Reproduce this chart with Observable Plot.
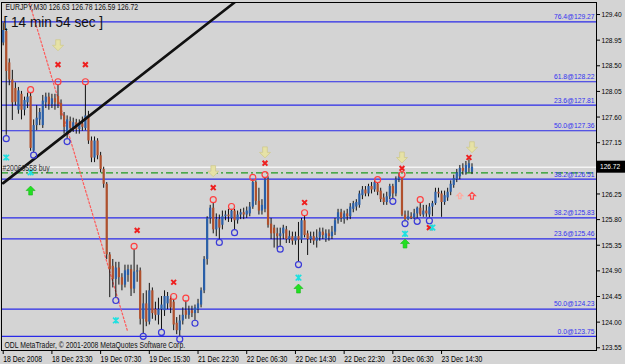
<!DOCTYPE html>
<html><head><meta charset="utf-8">
<script src="https://cdn.jsdelivr.net/npm/d3@7"></script>
<script src="https://cdn.jsdelivr.net/npm/@observablehq/plot@0.6"></script>
<style>
html,body{margin:0;padding:0;background:#d4d4d4;}
svg{display:block}
</style></head><body>
<script>
// ---- data (EURJPY M30 candles, bar index 0..154) ----
const open = [128.90,129.10,128.55,128.25,128.10,127.72,128.00,127.72,127.85,127.96,
127.00,127.45,127.55,127.45,127.85,127.95,127.82,127.92,127.96,127.84,
127.62,127.30,127.52,127.40,127.50,127.38,127.48,127.40,127.62,127.18,
126.88,127.18,126.92,126.68,126.42,125.18,124.98,124.75,124.95,124.78,
124.65,124.82,124.92,124.58,124.88,124.90,124.05,124.32,124.00,124.55,
124.22,124.12,124.22,124.20,124.32,124.40,124.35,123.98,123.85,124.02,
124.20,124.12,124.20,124.15,124.22,124.30,124.55,125.10,125.82,126.00,
125.62,125.80,125.70,125.85,125.88,125.82,125.95,125.78,125.88,125.92,
125.88,125.90,126.02,126.45,126.12,125.95,125.98,126.50,125.72,125.65,
125.55,125.50,125.55,125.62,125.45,125.50,125.42,125.50,125.44,125.78,
125.55,125.45,125.50,125.42,125.48,125.58,125.45,125.55,125.50,125.58,
125.78,125.92,125.80,125.90,125.85,125.98,126.02,126.05,126.22,126.32,
126.25,126.38,126.32,126.42,126.30,126.18,126.10,126.20,126.38,126.25,
126.50,126.52,125.88,125.80,125.85,125.82,125.90,126.00,125.88,125.95,
125.88,126.02,126.08,126.28,126.25,126.10,126.18,126.28,126.40,126.50,
126.55,126.70,126.62,126.70,126.63];
const high = [129.25,129.15,128.62,128.42,128.20,128.12,128.05,127.95,128.02,128.03,
127.55,127.80,127.75,127.98,128.02,128.02,128.00,128.00,128.17,127.90,
127.68,127.62,127.60,127.58,127.56,127.55,127.60,128.17,127.70,127.25,
127.25,127.22,126.98,126.72,126.45,125.22,125.10,125.05,125.05,124.85,
125.00,125.00,125.00,125.28,125.00,124.95,124.50,124.55,124.68,124.60,
124.35,124.42,124.45,124.55,124.52,124.45,124.40,124.08,124.12,124.25,
124.37,124.28,124.28,124.30,124.40,124.60,125.15,125.85,126.05,126.10,
125.90,125.88,125.95,125.95,125.98,125.98,125.98,125.95,125.98,126.00,
126.02,126.10,126.49,126.48,126.35,126.15,126.54,126.55,125.82,125.70,
125.65,125.65,125.70,125.68,125.60,125.58,125.58,125.75,125.82,125.87,
125.60,125.58,125.58,125.62,125.65,125.65,125.62,125.62,125.68,125.82,
125.98,125.98,125.95,125.98,126.08,126.12,126.15,126.30,126.38,126.38,
126.42,126.45,126.48,126.45,126.35,126.25,126.28,126.42,126.42,126.55,
126.62,126.54,125.95,125.95,125.92,125.98,126.02,126.10,126.05,126.05,
126.08,126.12,126.35,126.35,126.30,126.30,126.35,126.48,126.58,126.68,
126.75,126.78,126.82,126.85,126.78];
const low = [128.85,127.28,128.15,127.54,127.80,127.65,127.55,127.62,127.75,127.00,
126.98,127.36,127.45,127.40,127.75,127.72,127.75,127.72,127.75,127.55,
127.30,127.22,127.32,127.33,127.30,127.30,127.35,127.36,127.12,126.80,
126.80,126.85,126.62,126.35,125.10,124.43,124.60,124.43,124.65,124.55,
124.60,124.70,124.45,124.50,124.70,123.95,123.80,123.92,123.95,124.05,
124.02,123.95,123.87,124.10,124.22,124.15,123.85,123.78,123.75,123.95,
124.05,124.05,124.08,124.03,124.15,124.25,124.50,125.00,125.72,125.55,
125.50,125.45,125.62,125.78,125.75,125.75,125.62,125.72,125.80,125.80,
125.82,125.85,125.98,126.05,125.88,125.88,125.92,125.65,125.45,125.30,
125.28,125.33,125.45,125.38,125.38,125.35,125.35,125.06,125.38,125.48,
125.17,125.38,125.35,125.30,125.42,125.45,125.40,125.42,125.45,125.52,
125.72,125.75,125.72,125.78,125.80,125.92,125.95,126.00,126.15,126.20,
126.20,126.25,126.28,126.22,126.10,126.05,126.05,126.15,126.17,126.20,
126.45,125.85,125.78,125.78,125.80,125.80,125.82,125.85,125.84,125.84,
125.83,125.85,126.05,126.18,125.84,126.05,126.12,126.22,126.35,126.45,
126.50,126.58,126.58,126.62,126.59];
const close = [129.12,128.40,128.25,127.85,127.86,128.06,127.72,127.89,127.95,127.05,
127.45,127.58,127.68,127.88,127.95,127.82,127.92,127.85,127.82,127.62,
127.42,127.55,127.40,127.50,127.38,127.48,127.42,127.62,127.18,126.88,
127.18,126.92,126.68,126.42,125.18,124.92,124.75,124.95,124.78,124.65,
124.90,124.92,124.58,124.88,124.90,124.05,124.32,124.00,124.55,124.15,
124.12,124.22,124.30,124.45,124.45,124.25,123.95,123.85,124.02,124.12,
124.12,124.20,124.15,124.25,124.32,124.55,125.10,125.82,126.00,125.62,
125.80,125.65,125.85,125.88,125.85,125.95,125.78,125.88,125.92,125.88,
125.95,126.02,126.45,126.12,125.95,126.05,126.50,125.70,125.55,125.55,
125.50,125.55,125.65,125.45,125.50,125.42,125.50,125.44,125.78,125.52,
125.45,125.50,125.42,125.48,125.58,125.52,125.55,125.50,125.58,125.78,
125.92,125.82,125.90,125.85,126.02,126.08,126.10,126.25,126.32,126.25,
126.38,126.32,126.45,126.28,126.15,126.10,126.20,126.38,126.25,126.50,
126.55,125.88,125.80,125.85,125.82,125.90,126.00,125.88,125.95,125.90,
126.02,126.08,126.28,126.25,126.10,126.22,126.28,126.42,126.52,126.62,
126.70,126.65,126.75,126.78,126.72];

const xTickBars = [0,16,32,48,64,80,96,112,128,144];
const xTickLabels = ["18 Dec 2008","18 Dec 23:30","19 Dec 07:30","19 Dec 15:30","21 Dec 22:30",
  "22 Dec 06:30","22 Dec 14:30","22 Dec 22:30","23 Dec 06:30","23 Dec 14:30"];
// 126.70 sits under the current-price box, so it is not drawn
const yTicks = [123.55,124.00,124.45,124.90,125.35,125.80,126.25,127.15,127.60,128.05,128.50,128.95,129.40];

const fibLevels = ["76.4","61.8","23.6","50.0","38.2","38.2","23.6","50.0","0.0"];
const fibPrices = [129.27,128.22,127.81,127.36,126.51,125.83,125.46,124.23,123.75];

const redCircleBars   = [9,18,27,43,56,60,69,75,82,86,99,123,131,137];
const redCirclePrices = [128.08,128.22,128.22,125.33,124.45,124.42,126.15,126.03,126.54,126.59,125.92,126.50,126.59,126.15];
const blueCircleBars   = [1,10,21,37,46,52,58,63,71,76,91,97,128,132,136,140];
const blueCirclePrices = [127.22,126.93,127.17,124.38,123.75,123.82,123.70,123.98,125.40,125.57,125.28,125.01,126.12,125.73,125.77,125.78];
const yellowArrowBars   = [18,69,86,131,154];
const yellowArrowPrices = [128.86,126.65,126.98,126.89,127.07];
const redCrossBars   = [18,27,44,56,69,86,99,131,153,140];
const redCrossPrices = [128.52,128.52,125.61,124.70,126.36,126.79,126.10,126.70,126.89,125.66];
const cyanStarBars   = [1,9,37,97,132,141];
const cyanStarPrices = [126.89,126.63,124.03,124.78,125.55,125.66];
const greenArrowBars   = [9,97,132];
const greenArrowPrices = [126.31,124.59,125.38];
const outlineArrowBars   = [150,154];
const outlineArrowPrices = [126.22,126.22];

const trendBars = [0,80];
const trendPrices = [126.44,129.78];
const dottedBars = [8.6,40.8];
const dottedPrices = [129.61,123.85];

const symbolName = "EURJPY,M30";
const timerText = "[ 14 min 54 sec ]";
const copyrightText = "ODL MetaTrader, © 2001-2008 MetaQuotes Software Corp.";
const orderPrice = 126.62;
const orderLabel = "#20066558 buy";

// ---- build tables ----
const n = open.length;
const bars = open.map((o,i)=>({i, o, h: high[i], l: low[i], c: close[i], up: close[i] >= o}));
const last = bars[n-1];
const pts = (xs, ys) => xs.map((x,k)=>({x, y: ys[k]}));
const fibs = fibLevels.map((l,k)=>({label: `${l}@${fibPrices[k].toFixed(2)}`, y: fibPrices[k]}));
const header = `${symbolName} ${last.o.toFixed(2)} ${last.h.toFixed(2)} ${last.l.toFixed(2)} ${last.c.toFixed(2)}`;

const sym = f => ({draw(ctx, size){ const r = Math.sqrt(size/Math.PI); f(ctx, r); }});
const arrowDown = sym((c,r)=>{const w=r*0.42; c.moveTo(-w,-r); c.lineTo(w,-r); c.lineTo(w,0); c.lineTo(r,0); c.lineTo(0,r); c.lineTo(-r,0); c.lineTo(-w,0); c.closePath();});
const arrowUp = sym((c,r)=>{const w=r*0.42; c.moveTo(-w,r); c.lineTo(w,r); c.lineTo(w,0); c.lineTo(r,0); c.lineTo(0,-r); c.lineTo(-r,0); c.lineTo(-w,0); c.closePath();});
const cross = sym((c,r)=>{c.moveTo(-r,-r); c.lineTo(r,r); c.moveTo(-r,r); c.lineTo(r,-r);});
const star = sym((c,r)=>{c.moveTo(-r,-r); c.lineTo(r,r); c.moveTo(-r,r); c.lineTo(r,-r); c.moveTo(0,-r*1.1); c.lineTo(0,r*1.1);});

const BLUE = "#2a5fa8", BROWN = "#b0502c";
const X0 = -0.56, X1 = 194.9;

const chart = Plot.plot({
  width: 625, height: 364,
  marginTop: 2, marginRight: 29, marginBottom: 14, marginLeft: 1,
  style: {background: "#d4d4d4", fontFamily: "Liberation Sans, Arial, sans-serif", fontSize: "9px", color: "black"},
  x: {domain: [X0, X1]},
  y: {domain: [123.502, 129.611]},
  color: {type: "identity"},
  marks: [
    Plot.ruleY(fibs, {y: "y", stroke: "#2a2ae8", strokeWidth: 1.2}),
    Plot.ruleY([last.c], {stroke: "#f4f4f4", strokeWidth: 1.6}),
    Plot.ruleY([orderPrice], {stroke: "#1f9a1f", strokeWidth: 1.2, strokeDasharray: "7,3,2,3"}),
    Plot.line(pts(dottedBars, dottedPrices), {x: "x", y: "y", stroke: "#ff5a5a", strokeWidth: 1.2, strokeDasharray: "2,2", clip: true}),
    Plot.ruleX(bars, {x: "i", y1: "l", y2: "h", stroke: "#111", strokeWidth: 1}),
    Plot.ruleX(bars, {x: "i", y1: "o", y2: d => Math.abs(d.c-d.o) < 0.012 ? d.o + 0.012 : d.c,
      stroke: d => d.up ? BLUE : BROWN, strokeWidth: 2.2}),
    Plot.line(pts(trendBars, trendPrices), {x: "x", y: "y", stroke: "#111", strokeWidth: 2.6, clip: true}),
    Plot.dot(pts(redCircleBars, redCirclePrices), {x: "x", y: "y", r: 3, stroke: "#ff4040", strokeWidth: 1.2, fill: "none"}),
    Plot.dot(pts(blueCircleBars, blueCirclePrices), {x: "x", y: "y", r: 3, stroke: "#3a3ad8", strokeWidth: 1.2, fill: "none"}),
    Plot.dot(pts(yellowArrowBars, yellowArrowPrices), {x: "x", y: "y", r: 5.5, symbol: arrowDown, fill: "#e6e2a6", stroke: "#cfc98e", strokeWidth: 0.8}),
    Plot.dot(pts(redCrossBars, redCrossPrices), {x: "x", y: "y", r: 2.4, symbol: cross, stroke: "#ee2020", strokeWidth: 2, fill: "none"}),
    Plot.dot(pts(cyanStarBars, cyanStarPrices), {x: "x", y: "y", r: 2.8, symbol: star, stroke: "#1ee0e0", strokeWidth: 1.6, fill: "none"}),
    Plot.dot(pts(greenArrowBars, greenArrowPrices), {x: "x", y: "y", r: 4.5, symbol: arrowUp, fill: "#22e022", stroke: "#18b818", strokeWidth: 0.6}),
    Plot.dot(pts(outlineArrowBars, outlineArrowPrices), {x: "x", y: "y", r: d => d.x > 152 ? 7 : 5, symbol: arrowUp,
      stroke: d => d.x > 152 ? "#ff4a4a" : "#ffaaa0", strokeWidth: 1.2, fill: "none"}),
    Plot.frame({stroke: "#000"}),
    Plot.text(fibs, {x: X1, y: "y", text: "label", textAnchor: "end", dx: -2, dy: -5, fontSize: 7.5, fill: "#3232f0"}),
    Plot.text([orderLabel], {x: X0, y: orderPrice, text: d => d, textAnchor: "start", dx: 1, dy: -4.5, fill: "#333"}),
    Plot.text([header], {frameAnchor: "top-left", text: d => d, lineAnchor: "middle", dx: 4, dy: 5, fill: "#111"}),
    Plot.text([timerText], {frameAnchor: "top-left", text: d => d, lineAnchor: "middle", dx: 2, dy: 20, fontSize: 14, fill: "#111"}),
    Plot.text([copyrightText], {frameAnchor: "bottom-left", text: d => d, lineAnchor: "middle", dx: 3, dy: -5, fill: "#111"}),
    Plot.axisX(xTickBars, {anchor: "bottom", tickSize: 4, tickPadding: 1, textAnchor: "start", dx: 0,
      tickFormat: d => xTickLabels[xTickBars.indexOf(d)], label: null}),
    Plot.axisY(yTicks, {anchor: "right", tickSize: 3, tickPadding: 2, fontSize: 8, tickFormat: d => d.toFixed(2), label: null})
  ]
});
document.body.append(chart);

// current price box on the right axis
const yy = chart.scale("y").apply(last.c);
const g = d3.select(chart).append("g").attr("class", "pricebox");
g.append("rect").attr("x", 597).attr("y", yy - 6).attr("width", 28).attr("height", 12).attr("fill", "#000");
g.append("text").attr("x", 600).attr("y", yy).attr("dy", "0.33em").attr("fill", "#fff")
  .attr("font-size", 8).attr("text-anchor", "start").text(last.c.toFixed(2));

// MetaTrader's fonts are narrow: condense the text horizontally
chart.querySelectorAll("text").forEach(t => {
  const len = t.getComputedTextLength();
  if (!len) return;
  const txt = t.textContent;
  const r = txt.includes("min") ? 0.97 : (/^\d{3}\.\d\d$/.test(txt) ? 0.82 : (txt.includes("@") ? 0.9 : 0.76));
  t.setAttribute("textLength", (len * r).toFixed(1));
  t.setAttribute("lengthAdjust", "spacingAndGlyphs");
});
</script>
</body></html>
